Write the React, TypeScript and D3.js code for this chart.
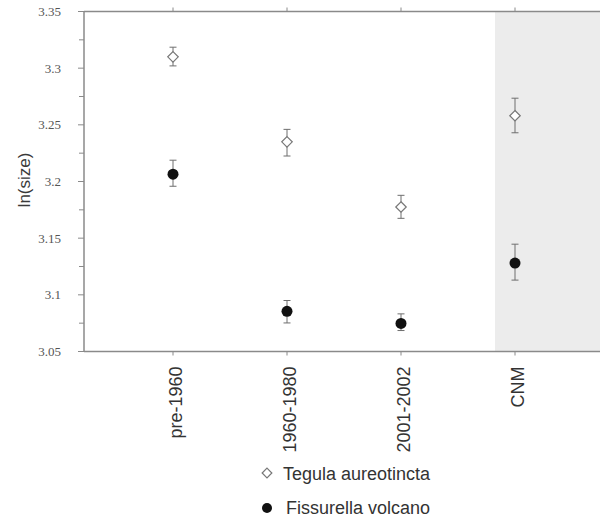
import React from 'react'
import * as d3 from 'd3'

// values
const periods = ['pre-1960', '1960-1980', '2001-2002', 'CNM']
const tegulaMean = [3.310, 3.235, 3.1775, 3.258]
const tegulaLow = [3.302, 3.2225, 3.1675, 3.243]
const tegulaHigh = [3.3185, 3.246, 3.1878, 3.2735]
const fissMean = [3.2065, 3.0855, 3.0748, 3.128]
const fissLow = [3.1958, 3.0752, 3.0685, 3.113]
const fissHigh = [3.2188, 3.095, 3.0832, 3.1447]
const yTicks = [3.05, 3.1, 3.15, 3.2, 3.25, 3.3, 3.35]
const yMinorTicks = [3.075, 3.125, 3.175, 3.225, 3.275, 3.325]
const legendLabels = ['Tegula aureotincta', 'Fissurella volcano']

const W = 600
const H = 517
const left = 84
const top = 11.5
const bottom = 351.5
const axisCol = '#8a8a8a'
const barCol = '#6e6e6e'
const sans = "'Liberation Sans', Arial, Helvetica, sans-serif"
const serif = "'Liberation Serif', 'Times New Roman', serif"

export default function App () {
  const x = d3.scalePoint<string>().domain(periods).range([173, 515])
  const y = d3.scaleLinear().domain([3.05, 3.35]).range([bottom, top])
  const diamond = d3.symbol().type(d3.symbolDiamond2).size(70)

  const errBar = (i: number, lo: number, hi: number, key: string) => {
    const cx = x(periods[i]) as number
    return (
      <g key={key} stroke={barCol} strokeWidth={1}>
        <line x1={cx} x2={cx} y1={y(lo)} y2={y(hi)} />
        <line x1={cx - 3.5} x2={cx + 3.5} y1={y(lo)} y2={y(lo)} />
        <line x1={cx - 3.5} x2={cx + 3.5} y1={y(hi)} y2={y(hi)} />
      </g>
    )
  }

  return (
    <svg width={W} height={H} style={{ position: 'absolute', left: 0, top: 0, background: '#fff' }}>
      {/* shaded CNM panel */}
      <rect x={495} y={top} width={W - 495} height={bottom - top} fill='#ececec' />

      {/* axes frame */}
      <g stroke={axisCol} strokeWidth={1.5} fill='none'>
        <line x1={left} x2={W} y1={top} y2={top} />
        <line x1={left} x2={W} y1={bottom} y2={bottom} />
        <line x1={left} x2={left} y1={top} y2={bottom} />
      </g>

      {/* y ticks */}
      <g stroke={axisCol} strokeWidth={1}>
        {yTicks.map(t => <line key={t} x1={left - 6} x2={left} y1={y(t)} y2={y(t)} />)}
        {yMinorTicks.map(t => <line key={t} x1={left - 5} x2={left} y1={y(t)} y2={y(t)} />)}
      </g>
      {yTicks.map(t => (
        <text key={t} x={61} y={y(t)} dy='0.35em' fontFamily={serif} fontSize={13} fill='#555' textAnchor='end'>
          {d3.format('')(t)}
        </text>
      ))}
      <text
        transform='translate(30,180) rotate(-90)'
        textAnchor='middle'
        fontFamily={sans}
        fontSize={17}
        fill='#3a3a3a'
      >ln(size)</text>

      {/* x ticks top and bottom */}
      <g stroke={axisCol} strokeWidth={1}>
        {periods.map(p => (
          <g key={p}>
            <line x1={x(p)} x2={x(p)} y1={bottom} y2={bottom + 4} />
            <line x1={x(p)} x2={x(p)} y1={top} y2={top - 4} />
          </g>
        ))}
      </g>
      {periods.map(p => (
        <text
          key={p}
          transform={`translate(${(x(p) as number) + 9},${bottom + 15}) rotate(-90)`}
          fontFamily={sans}
          fontSize={18}
          fill='#333'
          textAnchor='end'
        >{p}</text>
      ))}

      {/* error bars */}
      {periods.map((p, i) => errBar(i, tegulaLow[i], tegulaHigh[i], 't' + i))}
      {periods.map((p, i) => errBar(i, fissLow[i], fissHigh[i], 'f' + i))}

      {/* points */}
      {periods.map((p, i) => (
        <path
          key={'td' + i}
          d={diamond() as string}
          transform={`translate(${x(p)},${y(tegulaMean[i])})`}
          fill='#fff'
          stroke='#777'
          strokeWidth={1.2}
        />
      ))}
      {periods.map((p, i) => (
        <circle key={'fc' + i} cx={x(p)} cy={y(fissMean[i])} r={5.5} fill='#111' />
      ))}

      {/* legend */}
      <path d={diamond.size(60)() as string} transform='translate(267,473)' fill='#fff' stroke='#777' strokeWidth={1.2} />
      <text x={283} y={479.5} fontFamily={sans} fontSize={18} fill='#333'>{legendLabels[0]}</text>
      <circle cx={267} cy={508} r={5} fill='#111' />
      <text x={286} y={513.5} fontFamily={sans} fontSize={18} fill='#333'>{legendLabels[1]}</text>
    </svg>
  )
}
